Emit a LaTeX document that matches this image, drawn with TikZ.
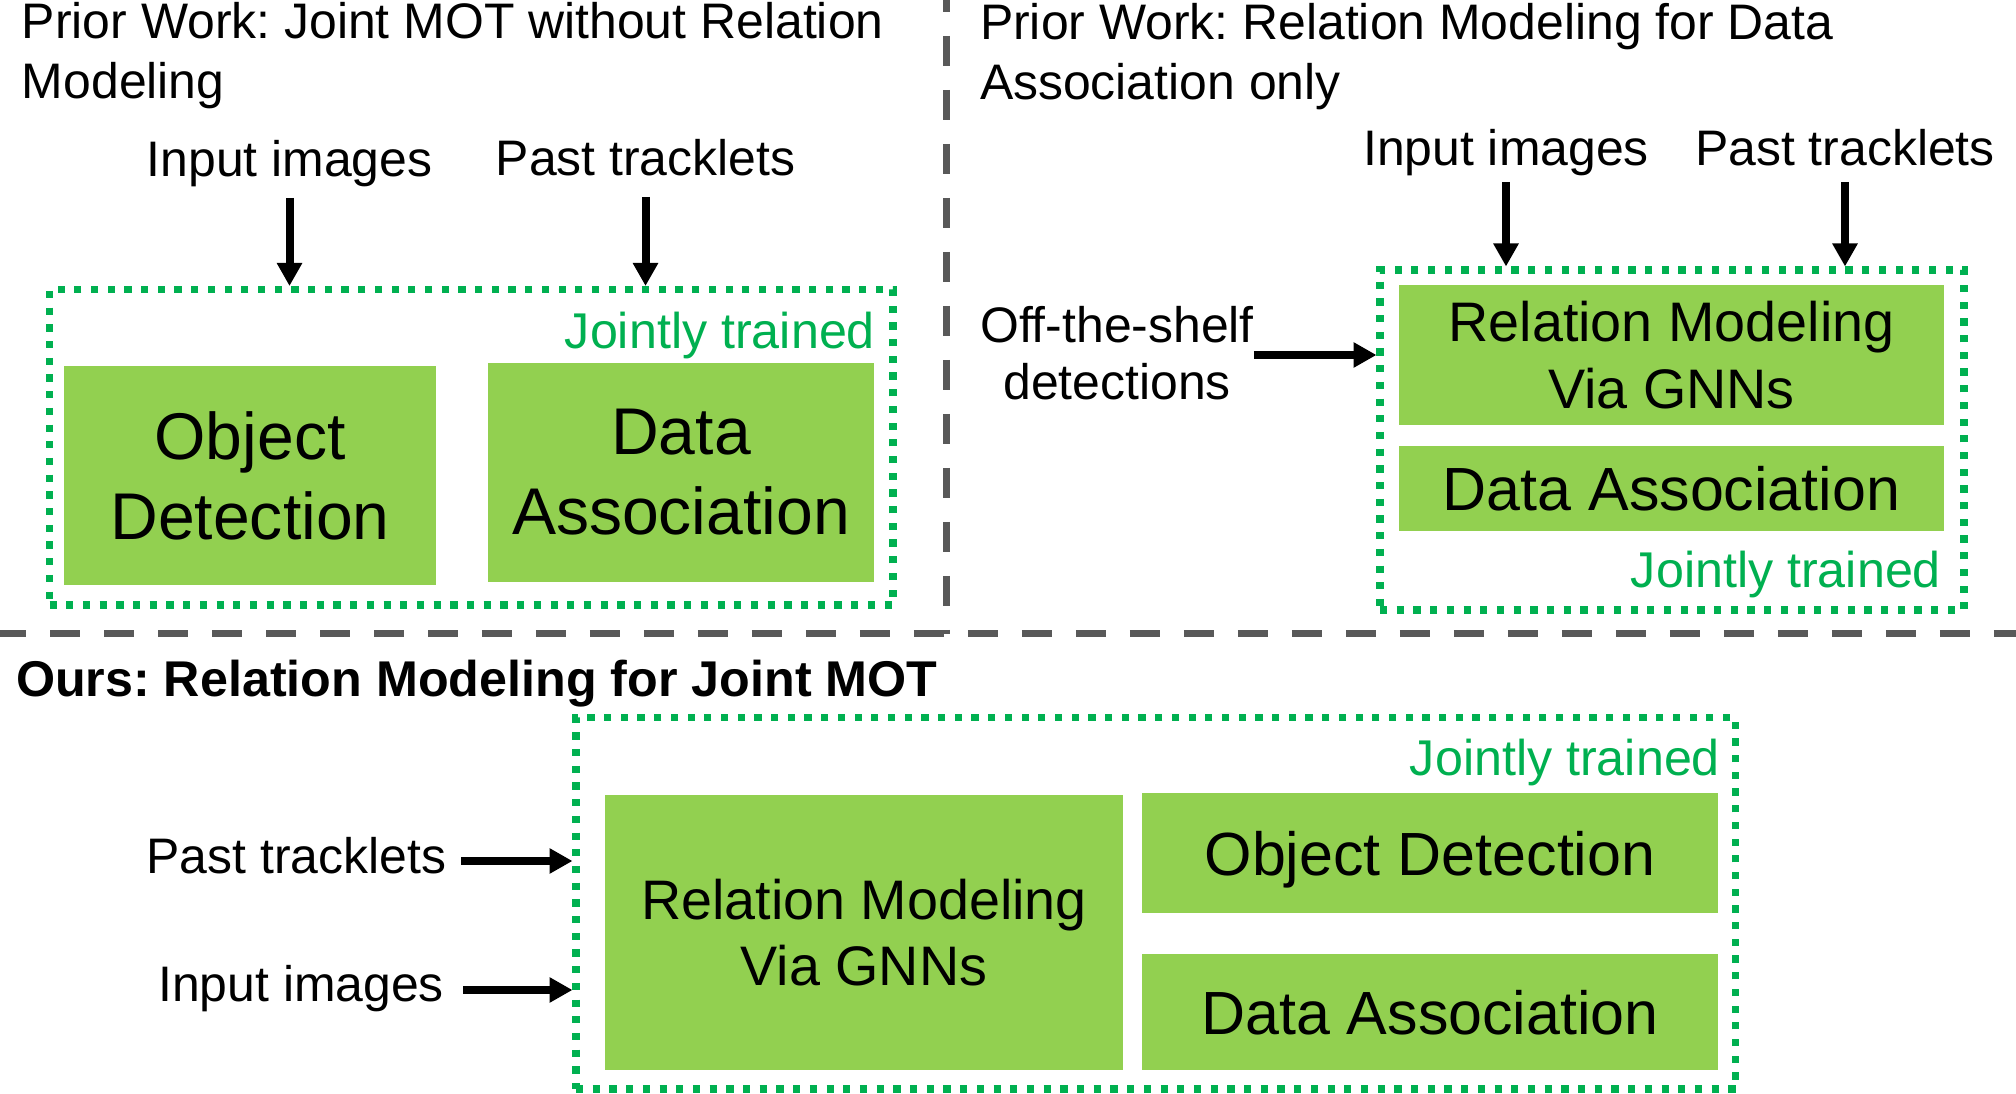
\documentclass[tikz,border=0pt]{standalone}
\usepackage{fontspec}
\setmainfont{Liberation Sans}
\usetikzlibrary{arrows.meta}
\definecolor{boxgreen}{HTML}{92D050}
\definecolor{dotgreen}{HTML}{00B050}
\definecolor{sepgrey}{HTML}{595959}
\newcommand\fsz[2]{\fontsize{#1}{#2}\selectfont}
\frenchspacing
\begin{document}
\frenchspacing
\begin{tikzpicture}[x=0.1mm,y=-0.1mm,
  every node/.style={inner sep=0pt,outer sep=0pt},
  sepline/.style={draw=sepgrey,line width=0.7mm,dash pattern=on 3mm off 2.4mm},
  jointbox/.style={draw=dotgreen,line width=0.72mm,dash pattern=on 0.72mm off 0.95mm},
  gbox/.style={fill=boxgreen,align=center},
  lab/.style={font=\fsz{14.2pt}{17pt}},
  ttl/.style={font=\fsz{14.2pt}{17.07pt},align=left,anchor=north west},
  jt/.style={font=\fsz{14.3pt}{17pt},text=dotgreen,anchor=base east},
  arr/.style={line width=0.8mm,-{Triangle[length=2.3mm,width=2.4mm]},shorten >=0.35mm},
]
\useasboundingbox (0,0) rectangle (2016,1094);
\fill[white] (0,0) rectangle (2016,1094);

% separators
\draw[sepline,dash phase=0.4mm] (0,634) -- (2016,634);
\draw[sepline,dash phase=1.8mm] (946,0) -- (946,634);

% ---------- top left ----------
\node[ttl] (t1) at (22,2) {Prior Work: Joint MOT without Relation\\Modeling};
\node[lab,anchor=base] (tlin) at (289.5,177) {Input images};
\node[lab,anchor=base] (tlpt) at (645.5,176) {Past tracklets};
\node[jointbox,minimum width=84.35mm,minimum height=31.55mm] (tlj) at (471.25,447.25) {};
\node[jt] (tljt) at (875,349) {Jointly trained};
\node[gbox,minimum width=37.2mm,minimum height=21.9mm,font=\fsz{18.8pt}{22.76pt}] (tlod) at (250,475.5) {Object\\Detection};
\node[gbox,minimum width=38.6mm,minimum height=21.9mm,font=\fsz{18.8pt}{22.76pt}] (tlda) at (681,472.5) {Data\\Association};
\draw[arr] ([yshift=-2.1mm]tlin.base) -- (tlin.base |- tlj.north);
\draw[arr] ([yshift=-2.1mm]tlpt.base) -- (tlpt.base |- tlj.north);

% ---------- top right ----------
\node[ttl] (t2) at (980,3) {Prior Work: Relation Modeling for Data\\Association only};
\node[lab,anchor=base] (trin) at (1506,165.5) {Input images};
\node[lab,anchor=base] (trpt) at (1845,165.5) {Past tracklets};
\node[jointbox,minimum width=58.4mm,minimum height=34mm] (trj) at (1672,440) {};
\node[gbox,minimum width=54.5mm,minimum height=14mm,font=\fsz{15.85pt}{18.9pt}] (trrm) at (1671.5,355) {Relation Modeling\\Via GNNs};
\node[gbox,minimum width=54.5mm,minimum height=8.5mm,text depth=0pt,font=\fsz{17.35pt}{20.8pt}] (trda) at (1671.5,488.5) {Data Association};
\node[jt] (trjt) at (1941,588) {Jointly trained};
\node[lab,align=center,anchor=north,font=\fsz{14.2pt}{16.3pt}] (off) at (1117,306) {Off-the-shelf\\detections};
\draw[arr] ([yshift=-1.65mm]trin.base) -- (trin.base |- trj.north);
\draw[arr] ([yshift=-1.65mm]trpt.base) -- (trpt.base |- trj.north);
\coordinate (offA) at (off.east |- trrm.west);
\draw[arr] (offA) -- (offA -| trj.west);

% ---------- bottom ----------
\node[font=\fsz{14.3pt}{17pt}\bfseries,anchor=base west] (t3) at (16,697) {Ours: Relation Modeling for Joint MOT};
\node[jointbox,minimum width=115.95mm,minimum height=37.15mm] (bj) at (1155.75,903.25) {};
\node[jt] (bjt) at (1720,776) {Jointly trained};
\node[gbox,minimum width=51.8mm,minimum height=27.5mm,font=\fsz{15.85pt}{18.9pt}] (brm) at (864,932.5) {Relation Modeling\\Via GNNs};
\node[gbox,minimum width=57.6mm,minimum height=12mm,text depth=0pt,font=\fsz{17.35pt}{20.8pt}] (bod) at (1430,853) {Object Detection};
\node[gbox,minimum width=57.6mm,minimum height=11.6mm,text depth=0pt,font=\fsz{17.35pt}{20.8pt}] (bda) at (1430,1012) {Data Association};
\node[lab,anchor=base east] (bpt) at (446,874) {Past tracklets};
\node[lab,anchor=base east] (bin) at (444,1001) {Input images};
\coordinate (bptA) at ([xshift=1.5mm,yshift=1.3mm]bpt.base east);
\coordinate (binA) at ([xshift=1.9mm,yshift=1.1mm]bin.base east);
\draw[arr] (bptA) -- (bptA -| bj.west);
\draw[arr] (binA) -- (binA -| bj.west);
\end{tikzpicture}
\end{document}
